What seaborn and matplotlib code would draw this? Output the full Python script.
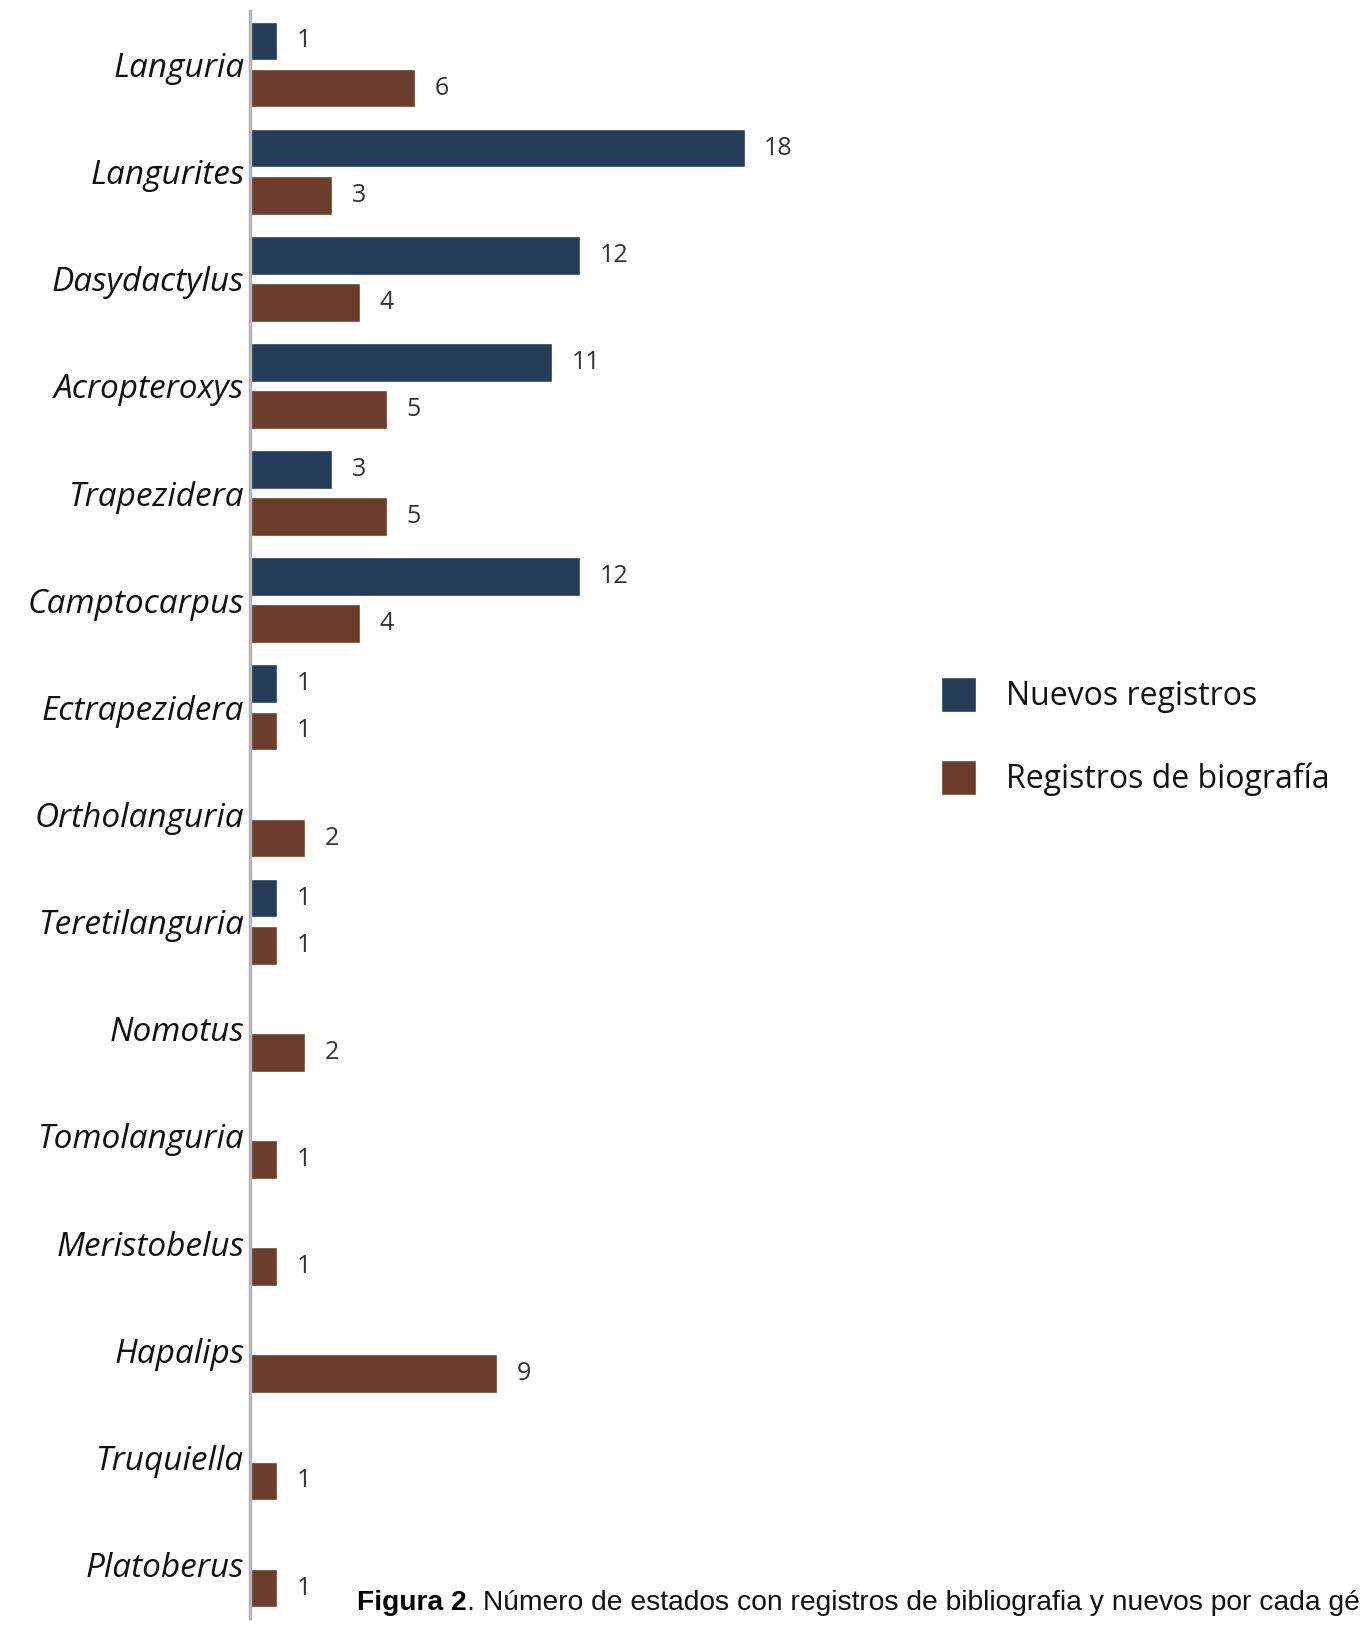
import numpy as np
import pandas as pd
import matplotlib
matplotlib.use("Agg")
import matplotlib.pyplot as plt
import seaborn as sns

# data
generos = ['Languria', 'Langurites', 'Dasydactylus', 'Acropteroxys', 'Trapezidera',
           'Camptocarpus', 'Ectrapezidera', 'Ortholanguria', 'Teretilanguria', 'Nomotus',
           'Tomolanguria', 'Meristobelus', 'Hapalips', 'Truquiella', 'Platoberus']
nuevos = [1, 18, 12, 11, 3, 12, 1, np.nan, 1, np.nan, np.nan, np.nan, np.nan, np.nan, np.nan]
biografia = [6, 3, 4, 5, 5, 4, 1, 2, 1, 2, 1, 1, 9, 1, 1]
series = ['Nuevos registros', 'Registros de biografía']
colores = ['#253D58', '#6B3D2A']
caption_bold = 'Figura 2'
caption_rest = '. Número de estados con registros de bibliografia y nuevos por cada gé'

df = pd.DataFrame({'Genero': generos, series[0]: nuevos, series[1]: biografia})
long_df = df.melt(id_vars='Genero', var_name='Serie', value_name='n').dropna()

sns.set_theme(style="white")
plt.rcParams['font.family'] = ['Open Sans', 'DejaVu Sans']

fig = plt.figure(figsize=(13.63, 16.35), dpi=100)
ax = fig.add_axes([250 / 1363, 1 - 1618 / 1635, 742 / 1363, (1618 - 11) / 1635])

sns.barplot(data=long_df, y='Genero', x='n', hue='Serie', order=generos,
            hue_order=series, palette=colores, orient='h', width=0.88, gap=0.18,
            saturation=1, ax=ax, legend=True)

for cont in ax.containers:
    ax.bar_label(cont, fmt='%d', padding=14, fontsize=18, color='#333333')

ax.set_xlim(0, 27)
ax.set_ylim(14.5, -0.5)
ax.set_xticks([])
ax.set_xlabel('')
ax.set_ylabel('')
ax.tick_params(axis='y', length=0, pad=4)
for lbl in ax.get_yticklabels():
    lbl.set_fontstyle('italic')
    lbl.set_fontsize(24)
    lbl.set_color('#111111')

for s in ['top', 'right', 'bottom']:
    ax.spines[s].set_visible(False)
ax.spines['left'].set_color('#b5b5b5')
ax.spines['left'].set_linewidth(2.5)

handles, labels = ax.get_legend_handles_labels()
ax.get_legend().remove()
fig.legend(handles, labels, loc='upper left', bbox_to_anchor=(925 / 1363, 1 - 661 / 1635),
           frameon=False, fontsize=23, handlelength=1.1, handleheight=1.33,
           handletextpad=0.95, labelspacing=1.45, borderpad=0, labelcolor='#111111')

# caption at the bottom, fitted so that it ends at the right edge like the original
cap_y = 1 - 1610 / 1635
cap_x = 357 / 1363
cap_font = ['Liberation Sans', 'DejaVu Sans']
t1 = fig.text(cap_x, cap_y, caption_bold, fontsize=20, fontweight='bold',
              family=cap_font, va='baseline', color='black')
t2 = fig.text(0, cap_y, caption_rest, fontsize=20, family=cap_font,
              va='baseline', color='#111111')
fig.canvas.draw()
r = fig.canvas.get_renderer()
total = t1.get_window_extent(r).width + t2.get_window_extent(r).width
size = 20 * (1358 - 357) / total
t1.set_fontsize(size)
t2.set_fontsize(size)
fig.canvas.draw()
t2.set_x(t1.get_window_extent(r).x1 / fig.bbox.width)

fig.savefig('out.png', dpi=100)
